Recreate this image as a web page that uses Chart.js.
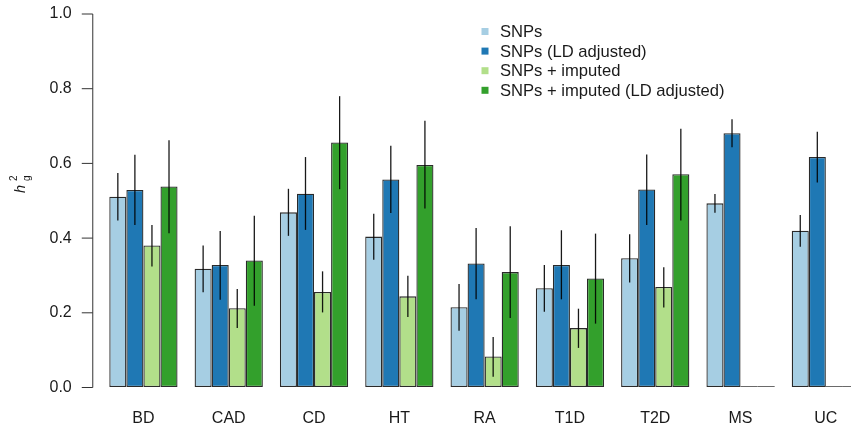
<!DOCTYPE html>
<html>
<head>
<meta charset="utf-8">
<script src="https://cdn.jsdelivr.net/npm/chart.js@4.4.1/dist/chart.umd.min.js"></script>
<style>
  html, body { margin: 0; padding: 0; background: #ffffff; overflow: hidden; }
  #wrap { width: 880px; height: 428px; }
</style>
</head>
<body>
<div id="wrap"><canvas id="c" width="880" height="428"></canvas></div>
<script>
const categories = ['BD', 'CAD', 'CD', 'HT', 'RA', 'T1D', 'T2D', 'MS', 'UC'];
const seriesNames = ['SNPs', 'SNPs (LD adjusted)', 'SNPs + imputed', 'SNPs + imputed (LD adjusted)'];
const seriesColors = ['#A6CEE3', '#1F78B4', '#B2DF8A', '#33A02C'];
const yTickValues = [0.0, 0.2, 0.4, 0.6, 0.8, 1.0];

const snps      = [0.511, 0.318, 0.469, 0.404, 0.215, 0.266, 0.346, 0.493, 0.420];
const snpsLo    = [0.447, 0.255, 0.406, 0.342, 0.152, 0.203, 0.281, 0.468, 0.377];
const snpsHi    = [0.574, 0.380, 0.532, 0.465, 0.277, 0.328, 0.410, 0.518, 0.462];

const snpsLD    = [0.529, 0.328, 0.519, 0.557, 0.332, 0.328, 0.530, 0.681, 0.617];
const snpsLDLo  = [0.435, 0.235, 0.422, 0.467, 0.236, 0.236, 0.435, 0.643, 0.549];
const snpsLDHi  = [0.623, 0.419, 0.617, 0.647, 0.427, 0.421, 0.624, 0.718, 0.685];

const imp       = [0.380, 0.212, 0.256, 0.244, 0.083, 0.159, 0.269, 0, 0];
const impLo     = [0.324, 0.159, 0.201, 0.189, 0.029, 0.106, 0.214, null, null];
const impHi     = [0.435, 0.264, 0.311, 0.299, 0.135, 0.211, 0.322, null, null];

const impLD     = [0.538, 0.340, 0.656, 0.596, 0.309, 0.292, 0.571, 0, 0];
const impLDLo   = [0.413, 0.219, 0.531, 0.479, 0.186, 0.171, 0.447, null, null];
const impLDHi   = [0.662, 0.460, 0.780, 0.714, 0.432, 0.412, 0.693, null, null];

const values = [snps, snpsLD, imp, impLD];
const lows = [snpsLo, snpsLDLo, impLo, impLDLo];
const highs = [snpsHi, snpsLDHi, impHi, impLDHi];

const FONT = '"Liberation Sans", Arial, Helvetica, sans-serif';
const TEXT = '#1a1a1a';

const datasets = values.map((v, i) => ({
  label: seriesNames[i],
  data: v,
  backgroundColor: ctx => (ctx.raw === 0 ? '#6a6a6a' : seriesColors[i]),
  borderColor: '#2a2a2a',
  borderWidth: ctx => (ctx.raw === 0 ? 0 : 1.3),
  borderSkipped: false,
  minBarLength: 1.6,
  barPercentage: 1.0,
  categoryPercentage: 0.8
}));

const errorBars = {
  id: 'errorBars',
  afterDatasetsDraw(chart) {
    const y = chart.scales.y;
    const ctx = chart.ctx;
    ctx.save();
    ctx.strokeStyle = 'rgba(0,0,0,0.9)';
    ctx.lineWidth = 1.3;
    chart.data.datasets.forEach((ds, i) => {
      const meta = chart.getDatasetMeta(i);
      meta.data.forEach((el, j) => {
        const lo = lows[i][j], hi = highs[i][j];
        if (lo == null || hi == null) return;
        ctx.beginPath();
        ctx.moveTo(el.x, y.getPixelForValue(lo));
        ctx.lineTo(el.x, y.getPixelForValue(hi));
        ctx.stroke();
      });
    });
    ctx.restore();
  }
};

const axisAndDecor = {
  id: 'axisAndDecor',
  afterDraw(chart) {
    const ctx = chart.ctx;
    const y = chart.scales.y;
    const ax = chart.chartArea.left - 8;
    ctx.save();
    // y axis line and tick marks
    ctx.strokeStyle = '#333';
    ctx.lineWidth = 1;
    ctx.beginPath();
    ctx.moveTo(ax, y.getPixelForValue(0));
    ctx.lineTo(ax, y.getPixelForValue(1));
    ctx.stroke();
    y.ticks.forEach(t => {
      const py = y.getPixelForValue(t.value);
      ctx.beginPath();
      ctx.moveTo(ax - 11, py);
      ctx.lineTo(ax, py);
      ctx.stroke();
    });
    // y axis title: h^2_g rotated
    ctx.fillStyle = TEXT;
    ctx.translate(25, 193);
    ctx.rotate(-Math.PI / 2);
    ctx.textBaseline = 'alphabetic';
    ctx.textAlign = 'left';
    ctx.font = 'italic 14.5px ' + FONT;
    ctx.fillText('h', 0, 0);
    ctx.font = '10px ' + FONT;
    ctx.fillText('2', 12, -8);
    ctx.fillText('g', 12, 5);
    ctx.restore();

    // legend
    ctx.save();
    ctx.font = '16.6px ' + FONT;
    ctx.textBaseline = 'middle';
    ctx.textAlign = 'left';
    chart.data.datasets.forEach((ds, i) => {
      const cy = 31.5 + i * 19.6;
      ctx.fillStyle = seriesColors[i];
      ctx.fillRect(481.5, cy - 3.5, 7, 7);
      ctx.fillStyle = TEXT;
      ctx.fillText(ds.label, 500, cy + 1);
    });
    ctx.restore();
  }
};

new Chart(document.getElementById('c'), {
  type: 'bar',
  data: { labels: categories, datasets },
  options: {
    responsive: false,
    animation: false,
    layout: { padding: { top: 14, left: 0, right: 11.5, bottom: 0 } },
    plugins: { legend: { display: false }, tooltip: { enabled: false } },
    scales: {
      x: {
        type: 'category',
        offset: true,
        grid: { display: false },
        border: { display: false },
        ticks: { color: TEXT, font: { family: FONT, size: 16 }, padding: 13.5, maxRotation: 0 },
        afterFit(s) { s.height = 40.5; }
      },
      y: {
        min: 0,
        max: 1,
        afterBuildTicks(s) { s.ticks = yTickValues.map(v => ({ value: v })); },
        grid: { display: true, drawOnChartArea: false, drawTicks: true, tickLength: 29, color: 'rgba(0,0,0,0)' },
        border: { display: false },
        ticks: { color: TEXT, font: { family: FONT, size: 16 }, padding: 0, callback: v => Number(v).toFixed(1) },
        afterFit(s) { s.width = 100.77; }
      }
    }
  },
  plugins: [errorBars, axisAndDecor]
});
</script>
</body>
</html>
